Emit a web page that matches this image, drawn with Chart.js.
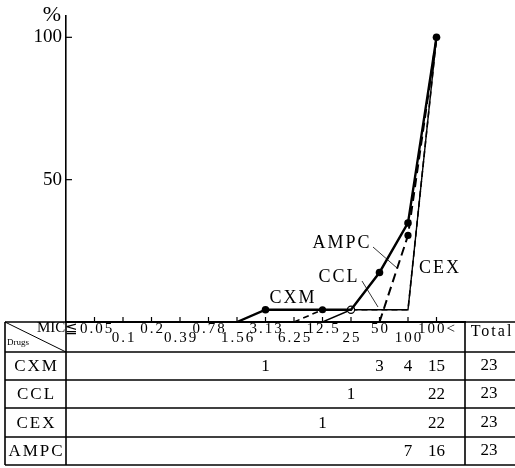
<!DOCTYPE html>
<html>
<head>
<meta charset="utf-8">
<script src="https://cdn.jsdelivr.net/npm/chart.js@4"></script>
<style>
  html, body { margin: 0; padding: 0; background: #fff; }
  #wrap { width: 515px; height: 468px; }
</style>
</head>
<body>
<div id="wrap"><canvas id="myChart" width="515" height="468"></canvas></div>
<script>
// MIC CATEGORIES (x axis) AND TABLE ROWS
var micLabels = ["≦0.05", "0.1", "0.2", "0.39", "0.78", "1.56", "3.13", "6.25", "12.5", "25", "50", "100", "100<"];
var drugs = ["CXM", "CCL", "CEX", "AMPC"];

// number of strains per MIC (table)
var cxmCounts  = [null, null, null, null, null, null, 1, null, null, null, 3, 4, 15];
var cclCounts  = [null, null, null, null, null, null, null, null, null, 1, null, null, 22];
var cexCounts  = [null, null, null, null, null, null, null, null, 1, null, null, null, 22];
var ampcCounts = [null, null, null, null, null, null, null, null, null, null, null, 7, 16];
var totals = [23, 23, 23, 23];

// cumulative % (lines)
var cxmPct  = [null, null, null, null, null, 0, 4.3, 4.3, 4.3, 4.3, 17.4, 34.8, 100];
var cclPct  = [null, null, null, null, null, null, null, null, 0, 4.3, 4.3, 4.3, 100];
var cexPct  = [null, null, null, null, null, null, null, 0, 4.3, 4.3, 4.3, 4.3, 100];
var ampcPct = [null, null, null, null, null, null, null, null, null, null, 0, 30.4, 100];

var yTicks = [50, 100];

var SERIF = "'Liberation Serif', 'DejaVu Serif', serif";

function pts(arr) {
  return arr.map((v, i) => ({ x: i, y: v }));
}
function dotsAt(list, r) {
  return (c) => (list.includes(c.dataIndex) ? r : 0);
}

// TABLE + ANNOTATIONS
var tablePlugin = {
  id: "tablePlugin",
  afterDraw(chart) {
    var ctx = chart.ctx;
    var xs = chart.scales.x;
    var ys = chart.scales.y;
    var area = chart.chartArea;
    var top = area.bottom;
    var left = 5;
    var right = 515;
    var divX = area.left;
    var totX = area.right;
    var rowLines = [top, top + 30, top + 58, top + 86, top + 115, top + 143];

    ctx.save();
    ctx.strokeStyle = "#000";
    ctx.fillStyle = "#000";

    // inward ticks on axes
    ctx.lineWidth = 1.2;
    micLabels.forEach((m, i) => {
      var px = xs.getPixelForValue(i);
      ctx.beginPath();
      ctx.moveTo(px, top);
      ctx.lineTo(px, top - 5);
      ctx.stroke();
    });
    yTicks.forEach((v) => {
      var py = ys.getPixelForValue(v);
      ctx.beginPath();
      ctx.moveTo(divX, py);
      ctx.lineTo(divX + 6, py);
      ctx.stroke();
    });

    // table grid
    ctx.lineWidth = 1.6;
    rowLines.forEach((y) => {
      ctx.beginPath();
      ctx.moveTo(left, y);
      ctx.lineTo(right, y);
      ctx.stroke();
    });
    [left, divX, totX].forEach((x) => {
      ctx.beginPath();
      ctx.moveTo(x, top);
      ctx.lineTo(x, rowLines[5]);
      ctx.stroke();
    });
    ctx.lineWidth = 1;
    ctx.beginPath();
    ctx.moveTo(left, top);
    ctx.lineTo(divX, rowLines[1]);
    ctx.stroke();

    // header
    ctx.textBaseline = "middle";
    ctx.textAlign = "left";
    ctx.font = "15px " + SERIF;
    ctx.fillText("MIC", 37, top + 6);
    ctx.font = "9px " + SERIF;
    ctx.fillText("Drugs", 7, top + 21);

    ctx.font = "15px " + SERIF;
    ctx.letterSpacing = "2px";
    ctx.textAlign = "center";
    micLabels.forEach((m, i) => {
      var px = xs.getPixelForValue(i);
      if (i === 0) px -= 6;
      var y = i % 2 === 0 ? top + 7 : top + 16;
      ctx.fillText(m, px + 1, y);
    });
    ctx.font = "16px " + SERIF;
    ctx.fillText("Total", (totX + right) / 2 + 2, top + 10);

    // rows
    var counts = [cxmCounts, cclCounts, cexCounts, ampcCounts];
    drugs.forEach((d, r) => {
      var cy = (rowLines[r + 1] + rowLines[r + 2]) / 2 + 1;
      ctx.font = "17px " + SERIF;
      ctx.letterSpacing = "2px";
      ctx.fillText(d, (left + divX) / 2 + 1, cy);
      ctx.letterSpacing = "0px";
      counts[r].forEach((v, i) => {
        if (v == null) return;
        ctx.fillText(String(v), xs.getPixelForValue(i), cy);
      });
      ctx.fillText(String(totals[r]), (totX + right) / 2 - 1, cy - 1);
    });

    // y unit
    ctx.font = "22px " + SERIF;
    ctx.fillText("%", 52, 15);

    // series labels
    ctx.font = "18px " + SERIF;
    ctx.letterSpacing = "2px";
    ctx.fillText("CXM", 293, 298);
    ctx.fillText("AMPC", 342, 243);
    ctx.fillText("CCL", 339, 277);
    ctx.fillText("CEX", 440, 268);
    ctx.letterSpacing = "0px";

    ctx.lineWidth = 0.8;
    ctx.beginPath();
    ctx.moveTo(373, 247);
    ctx.lineTo(397, 268);
    ctx.moveTo(362, 281);
    ctx.lineTo(378, 307);
    ctx.stroke();
    ctx.restore();
  },
};

new Chart("myChart", {
  type: "line",
  data: {
    datasets: [
      {
        label: "CXM",
        data: pts(cxmPct),
        borderColor: "#000",
        backgroundColor: "#000",
        borderWidth: 2.4,
        pointRadius: dotsAt([6, 10, 11, 12], 3.8),
        pointBackgroundColor: "#000",
        pointBorderWidth: 0,
      },
      {
        label: "AMPC",
        data: pts(ampcPct),
        borderColor: "#000",
        borderWidth: 2,
        borderDash: [9, 5],
        pointRadius: dotsAt([11], 3.6),
        pointBackgroundColor: "#000",
        pointBorderWidth: 0,
      },
      {
        label: "CCL",
        data: pts(cclPct),
        borderColor: "#000",
        borderWidth: 1.4,
        pointRadius: dotsAt([9], 3.6),
        pointBackgroundColor: "#fff",
        pointBorderColor: "#000",
        pointBorderWidth: 1.2,
      },
      {
        label: "CEX",
        data: pts(cexPct),
        borderColor: "#000",
        borderWidth: 1.6,
        borderDash: [6, 4],
        pointRadius: dotsAt([8], 3.6),
        pointBackgroundColor: "#000",
        pointBorderWidth: 0,
      },
    ],
  },
  options: {
    responsive: false,
    animation: false,
    layout: { padding: { top: 15, right: 50, left: 0, bottom: 0 } },
    plugins: { legend: { display: false }, tooltip: { enabled: false } },
    scales: {
      x: {
        type: "linear",
        min: -1,
        max: 13,
        ticks: { display: false },
        grid: { display: true, drawOnChartArea: false, drawTicks: false },
        border: { display: true, color: "#000", width: 2 },
        afterFit(s) {
          s.height = 146;
        },
      },
      y: {
        min: 0,
        max: 107.7,
        afterBuildTicks(s) {
          s.ticks = yTicks.map((v) => ({ value: v }));
        },
        ticks: { color: "#000", padding: 4, font: { family: SERIF, size: 19 } },
        grid: { display: true, drawOnChartArea: false, drawTicks: false },
        border: { display: true, color: "#000", width: 1.6 },
        afterFit(s) {
          s.width = 66;
        },
      },
    },
  },
  plugins: [tablePlugin],
});
</script>
</body>
</html>
